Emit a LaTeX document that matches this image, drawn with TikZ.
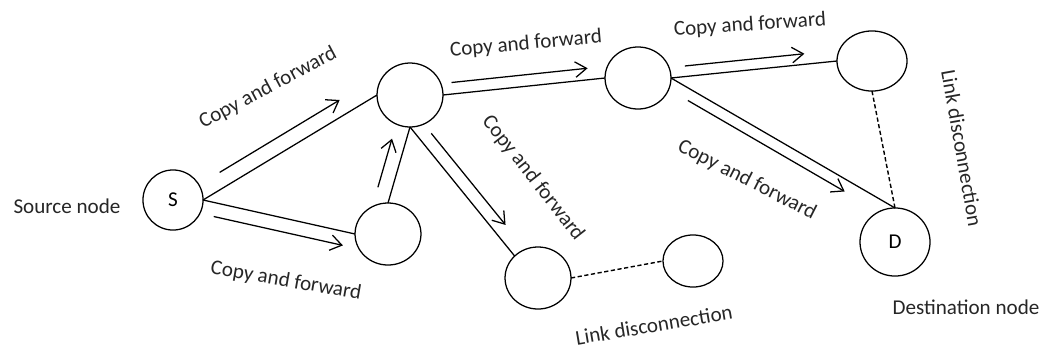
\documentclass[tikz,border=0pt]{standalone}
\usepackage{fontspec}
\setmainfont{Carlito}
\usepackage{tikz}
\usetikzlibrary{shapes,arrows.meta,calc}

\begin{document}
\begin{tikzpicture}[x=0.025cm,y=-0.025cm,
font=\fontsize{15}{18}\selectfont,
peer/.style={ellipse,draw,line width=0.9pt,inner sep=0pt,outer sep=0pt},
link/.style={line width=0.9pt},
lost/.style={line width=1pt,dash pattern=on 3pt off 1.8pt},
fwd/.style={line width=0.9pt,-{Straight Barb[length=8pt,width=11pt]}},
lbl/.style={text=black!85,inner sep=0pt}]
\useasboundingbox (0,0) rectangle (1043,349);

% nodes
\node[peer,minimum width=42.7pt,minimum height=42.7pt] (S) at (173,200) {S};
\node[peer,minimum width=46.9pt,minimum height=45.5pt] (N1) at (410,95) {};
\node[peer,minimum width=46.9pt,minimum height=44.1pt] (N2) at (388,234) {};
\node[peer,minimum width=46.9pt,minimum height=44.1pt] (N3) at (638,78) {};
\node[peer,minimum width=49.8pt,minimum height=42.7pt] (N4) at (872,61) {};
\node[peer,minimum width=46.9pt,minimum height=44.1pt] (N5) at (538,278) {};
\node[peer,minimum width=42.7pt,minimum height=37pt] (N6) at (693,261) {};
\node[peer,minimum width=49.8pt,minimum height=48.4pt] (D) at (895,242) {D};

% links
\draw[link] (S.east) -- (N1.west);
\draw[link] (S.east) -- (N2.west);
\draw[link] (N2.north) -- (N1.south);
\draw[link] (N1.east) -- (N3.west);
\draw[link] (N1.south) -- (N5.north west);
\draw[link] (N3.east) -- (N4.west);
\draw[link] (N3.east) -- (D.north);
\draw[lost] (N4.south) -- (D.north);
\draw[lost] (N5.east) -- (N6.west);

% copy and forward arrows
\draw[fwd] ($(S.east)!0.14!(N1.west)!10.7pt!90:(N1.west)$) -- ($(S.east)!0.83!(N1.west)!10.7pt!90:(N1.west)$);
\draw[fwd] ($(S.east)!0.09!(N2.west)!9.8pt!-90:(N2.west)$) -- ($(S.east)!0.94!(N2.west)!9.8pt!-90:(N2.west)$);
\draw[fwd] ($(N2.north)!0.155!(N1.south)!10pt!90:(N1.south)$) -- ($(N2.north)!0.795!(N1.south)!10pt!90:(N1.south)$);
\draw[fwd] ($(N1.east)!0.06!(N3.west)!8.2pt!90:(N3.west)$) -- ($(N1.east)!0.9!(N3.west)!8.2pt!90:(N3.west)$);
\draw[fwd] ($(N1.south)!0.11!(N5.north west)!8.9pt!90:(N5.north west)$) -- ($(N1.south)!0.82!(N5.north west)!8.9pt!90:(N5.north west)$);
\draw[fwd] ($(N3.east)!0.09!(N4.west)!7.5pt!90:(N4.west)$) -- ($(N3.east)!0.81!(N4.west)!7.5pt!90:(N4.west)$);
\draw[fwd] ($(N3.east)!0.1!(D.north)!7.8pt!-90:(D.north)$) -- ($(N3.east)!0.8!(D.north)!7.8pt!-90:(D.north)$);

% labels
\node[lbl] (srcLbl) at (67,206) {Source node};
\node[lbl] (dstLbl) at (966,307) {Destination node};
\node[lbl,rotate=28] (cf1) at (268,88) {Copy and forward};
\node[lbl,rotate=-10] (cf2) at (286,281) {Copy and forward};
\node[lbl,rotate=5] (cf3) at (526,44) {Copy and forward};
\node[lbl,rotate=-52] (cf4) at (533,178) {Copy and forward};
\node[lbl,rotate=4] (cf5) at (750,25) {Copy and forward};
\node[lbl,rotate=-27] (cf6) at (747,180) {Copy and forward};
\node[lbl,rotate=-80] (ld1) at (962,148) {Link disconnection};
\node[lbl,rotate=9.5] (ld2) at (654,325) {Link disconnection};

\end{tikzpicture}
\end{document}
